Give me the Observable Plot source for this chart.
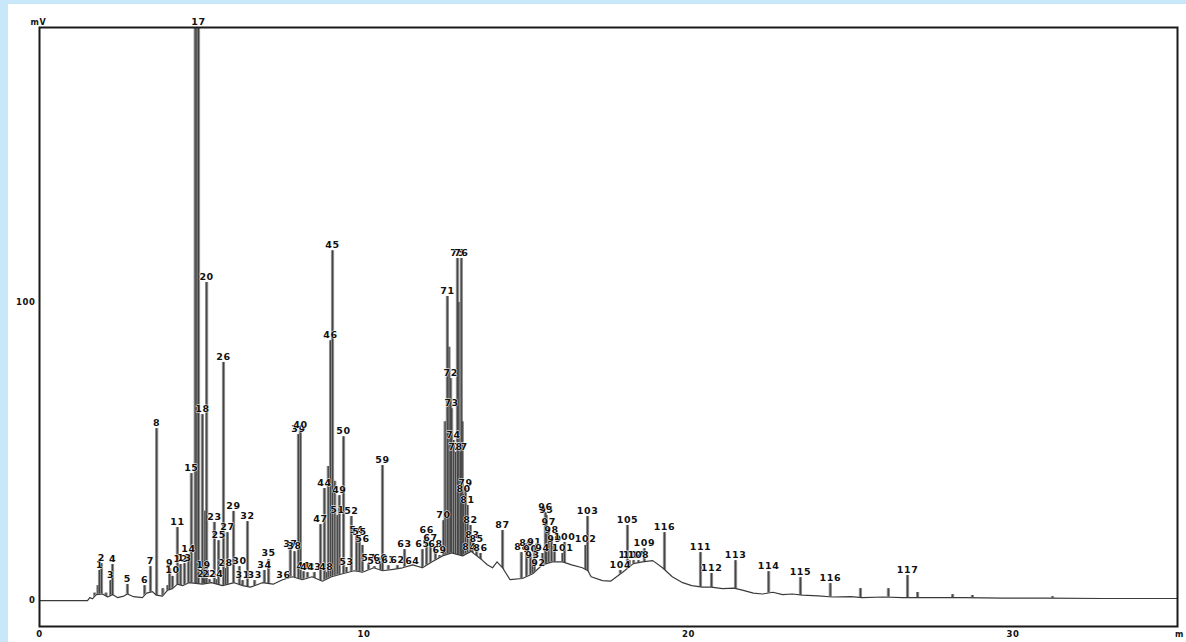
<!DOCTYPE html>
<html>
<head>
<meta charset="utf-8">
<script src="https://cdn.jsdelivr.net/npm/d3@7"></script>
<script src="https://cdn.jsdelivr.net/npm/@observablehq/plot@0.6"></script>
<style>
  html, body { margin: 0; padding: 0; background: #c8e7f8; }
  #wrap { position: absolute; left: 8px; top: 4px; width: 1178px; height: 638px; background: #fff; }
  #wrap svg text { letter-spacing: 0.6px; }
</style>
</head>
<body>
<div id="wrap"></div>
<script>
// Baseline (trace between peaks): retention time (min) and signal (mV)
const baseT = [0, 1.48, 1.55, 1.63, 1.75, 1.94, 2.1, 2.25, 2.4, 2.6, 2.71, 2.9, 3.17, 3.3, 3.48, 3.6, 3.79, 3.95, 4.10, 4.25, 4.41, 4.6, 5.02, 5.3, 5.64, 6.0, 6.26, 6.5, 6.87, 7.2, 7.49, 7.8, 8.10, 8.4, 8.72, 9.0, 9.34, 9.7, 9.95, 10.3, 10.57, 10.9, 11.19, 11.5, 11.80, 12.1, 12.42, 12.7, 13.04, 13.3, 13.65, 13.8, 13.96, 14.1, 14.27, 14.5, 14.88, 15.2, 15.5, 15.8, 16.12, 16.4, 16.73, 16.9, 17.0, 17.35, 17.6, 17.97, 18.3, 18.58, 18.9, 19.2, 19.5, 19.82, 20.1, 20.43, 20.7, 21.05, 21.4, 21.66, 22.0, 22.28, 22.6, 22.9, 23.2, 23.51, 24.0, 24.44, 25.0, 25.36, 26.0, 26.59, 27.5, 28.5, 29.68, 31.0, 32.76, 35.07];
const baseV = [0, 0, 1.0, 0.6, 2.0, 2.2, 1.2, 2.0, 1.0, 1.5, 2.2, 1.3, 1.0, 2.5, 3.0, 1.8, 1.5, 3.5, 4.0, 5.5, 5.0, 6.0, 5.5, 6.0, 5.0, 6.0, 5.0, 4.5, 6.0, 5.5, 7.0, 8.0, 7.0, 8.0, 6.5, 8.0, 9.0, 10.0, 9.5, 11.0, 10.0, 10.5, 11.0, 12.0, 11.0, 13.0, 15.0, 16.0, 15.0, 16.5, 13.5, 12.0, 11.0, 13.0, 11.0, 7.0, 7.4, 9.0, 12.0, 13.0, 13.0, 12.0, 11.0, 10.0, 8.0, 6.7, 6.5, 9.5, 12.4, 13.0, 13.4, 11.0, 8.0, 6.0, 5.0, 4.5, 4.5, 4.0, 4.2, 3.5, 2.5, 2.2, 2.8, 2.0, 2.2, 1.8, 1.6, 1.2, 1.3, 1.0, 1.2, 1.0, 1.0, 1.0, 0.8, 0.8, 0.7, 0.7];

// Peaks: retention time (min), apex (mV), label
const peakT = [1.85, 1.91, 2.19, 2.25, 2.71, 3.24, 3.42, 3.61, 4.01, 4.10, 4.25, 4.35, 4.47, 4.59, 4.68, 4.80, 4.85, 4.90, 5.02, 5.05, 5.15, 5.08, 5.24, 5.39, 5.45, 5.52, 5.67, 5.79, 5.73, 5.98, 6.16, 6.26, 6.41, 6.63, 6.93, 7.06, 7.52, 7.73, 7.86, 7.98, 8.04, 8.14, 8.26, 8.47, 8.78, 9.03, 8.97, 8.66, 8.84, 9.24, 9.37, 9.18, 9.61, 9.46, 9.77, 9.86, 9.95, 10.14, 10.32, 10.57, 10.51, 10.75, 11.03, 11.25, 11.49, 11.80, 11.93, 12.05, 12.20, 12.33, 12.45, 12.57, 12.67, 12.70, 12.76, 12.88, 13.00, 12.97, 12.82, 13.13, 13.07, 13.19, 13.28, 13.34, 13.25, 13.47, 13.59, 14.27, 14.85, 15.01, 15.13, 15.25, 15.38, 15.19, 15.50, 15.62, 15.59, 15.69, 15.78, 15.87, 16.18, 16.12, 16.83, 16.89, 17.90, 18.12, 18.18, 18.31, 18.46, 18.64, 19.26, 20.37, 20.71, 21.45, 22.47, 23.45, 24.37, 26.75, 25.30, 26.16, 27.06, 28.14, 28.75, 31.22, 12.50, 12.62, 12.92, 13.03, 8.90, 9.10, 5.10, 1.70, 1.80, 2.05, 3.80, 3.95];
const peakV = [10.1, 12.4, 6.7, 12.1, 5.4, 5.0, 11.4, 57.7, 10.7, 8.1, 24.5, 12.1, 12.4, 15.4, 42.6, 192, 192, 192.3, 62.4, 10.1, 106.7, 7.0, 7.0, 26.2, 7.0, 20.1, 79.9, 22.8, 10.7, 29.9, 11.4, 6.7, 26.5, 6.7, 10.1, 13.8, 6.7, 17.1, 16.4, 55.7, 57.0, 9.7, 9.4, 9.4, 37.6, 117.4, 87.2, 25.5, 9.4, 35.2, 55.0, 28.5, 28.2, 11.1, 21.8, 21.1, 18.5, 12.4, 11.4, 45.3, 12.4, 11.7, 11.7, 17.1, 11.4, 17.1, 21.8, 19.1, 17.1, 15.1, 26.8, 102.0, 74.5, 64.4, 53.7, 114.8, 114.8, 49.7, 49.7, 37.6, 35.6, 31.9, 25.2, 20.1, 16.1, 18.8, 15.8, 23.5, 16.1, 17.4, 15.4, 17.8, 10.7, 13.4, 15.8, 28.5, 29.5, 24.5, 21.8, 18.5, 19.5, 15.8, 18.5, 28.2, 10.1, 25.2, 13.4, 13.4, 13.4, 17.4, 22.8, 16.1, 9.1, 13.4, 9.7, 7.7, 5.7, 8.4, 4.0, 4.0, 2.7, 2.0, 1.7, 1.3, 60, 85, 100, 60, 45, 40, 30, 2.5, 5.0, 2.5, 4.0, 5.0];
const peakLabel = ["1", "2", "3", "4", "5", "6", "7", "8", "9", "10", "11", "12", "13", "14", "15", "", "", "17", "18", "19", "20", "21", "22", "23", "24", "25", "26", "27", "28", "29", "30", "31", "32", "33", "34", "35", "36", "37", "38", "39", "40", "41", "42", "43", "44", "45", "46", "47", "48", "49", "50", "51", "52", "53", "54", "55", "56", "57", "58", "59", "60", "61", "62", "63", "64", "65", "66", "67", "68", "69", "70", "71", "72", "73", "74", "75", "76", "77", "78", "79", "80", "81", "82", "83", "84", "85", "86", "87", "88", "89", "90", "91", "92", "93", "94", "95", "96", "97", "98", "99", "100", "101", "102", "103", "104", "105", "106", "107", "108", "109", "116", "111", "112", "113", "114", "115", "116", "117", "", "", "", "", "", "", "", "", "", "", "", "", "", "", "", "", "", ""];

const xTicks = [0, 10, 20, 30];
const yTicks = [0, 100];
const yUnit = "mV";
const xUnit = "m";

const baseline = baseT.map((t, i) => ({t, v: baseV[i]}));
const peaks = peakT.map((t, i) => ({t, v: peakV[i], label: peakLabel[i]}));
const labeled = peaks.filter(d => d.label !== "");

const yMin = -8.7, yMax = 192.3;

const chart = Plot.plot({
  width: 1178,
  height: 638,
  marginLeft: 31,
  marginRight: 9,
  marginTop: 23,
  marginBottom: 16,
  x: {domain: [0, 35.07]},
  y: {domain: [yMin, yMax]},
  style: {fontFamily: "DejaVu Sans", fontSize: "9px", fontWeight: "bold", color: "#111", background: "white"},
  marks: [
    Plot.ruleX(peaks, {x: "t", y1: 0, y2: "v", stroke: "#8c8c8c", strokeWidth: 3.2}),
    Plot.ruleX(peaks, {x: "t", y1: 0, y2: "v", stroke: "#3a3a3a", strokeWidth: 0.9}),
    Plot.areaY(baseline, {x: "t", y1: yMin, y2: "v", fill: "white", curve: "linear"}),
    Plot.line(baseline, {x: "t", y: "v", stroke: "#3a3a3a", strokeWidth: 1.2}),
    Plot.text(labeled, {x: "t", y: "v", text: "label", dy: -6, fontSize: 9.5, fontWeight: "bold", fill: "#111", stroke: "white", strokeWidth: 0.8}),
    Plot.frame({stroke: "#1a1a1a", strokeWidth: 2}),
    Plot.axisY({ticks: yTicks, tickSize: 0, tickPadding: 4, fontSize: 8.5, fontWeight: "bold", label: null}),
    Plot.axisX({ticks: xTicks, tickSize: 0, tickPadding: 4, fontSize: 8.5, fontWeight: "bold", label: null}),
    Plot.text([yUnit], {frameAnchor: "top-left", dx: -9, dy: -8, fontSize: 8, fontWeight: "bold", textAnchor: "start"}),
    Plot.text([xUnit], {frameAnchor: "bottom-right", dx: 2, dy: 10, fontSize: 8, fontWeight: "bold", textAnchor: "middle"})
  ]
});
document.getElementById("wrap").append(chart);
</script>
</body>
</html>
